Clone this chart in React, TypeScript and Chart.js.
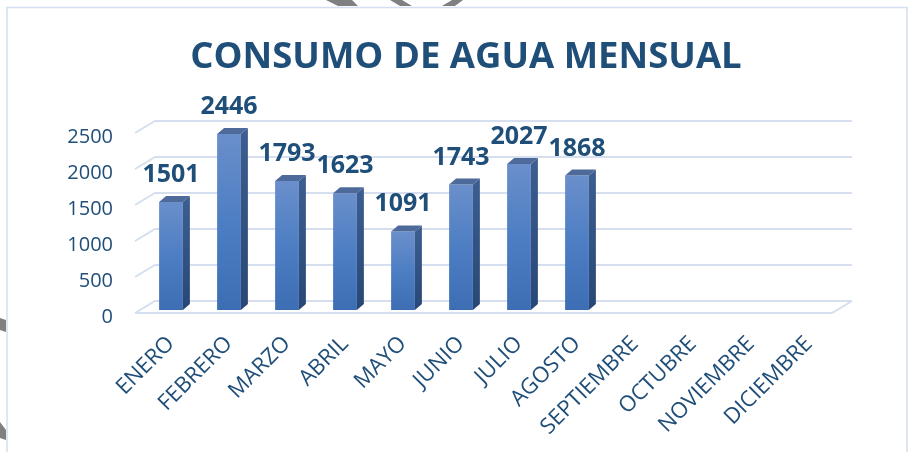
import React, { useEffect, useRef } from "react";
import { Chart, registerables } from "chart.js";

Chart.register(...registerables);

const categories = [
  "ENERO", "FEBRERO", "MARZO", "ABRIL", "MAYO", "JUNIO",
  "JULIO", "AGOSTO", "SEPTIEMBRE", "OCTUBRE", "NOVIEMBRE", "DICIEMBRE",
];
const consumo: (number | null)[] = [1501, 2446, 1793, 1623, 1091, 1743, 2027, 1868, null, null, null, null];
const yMin = 0;
const yMax = 2500;
const yStep = 500;
const titleText = "CONSUMO DE AGUA MENSUAL";

const TEXT = "#1F4E79";
const GRID = "#D5DFF0";
const DEPTH_X = 7;
const DEPTH_Y = 6;

const frame3D = {
  id: "frame3D",
  beforeDatasetsDraw(chart: any) {
    const { ctx, chartArea } = chart;
    const y = chart.scales.y;
    const FL = chartArea.left - 7;
    const BL = FL + 20;
    const BR = chartArea.right + 14;
    const FR = BR - 20;
    ctx.save();
    ctx.strokeStyle = GRID;
    ctx.lineWidth = 2;
    for (let v = yMin; v <= yMax; v += yStep) {
      const p = y.getPixelForValue(v);
      const yB = p - 9;
      const yF = yB + 12;
      ctx.beginPath();
      ctx.moveTo(FL, yF);
      ctx.lineTo(BL, yB);
      ctx.lineTo(BR, yB);
      if (v === yMin) {
        ctx.moveTo(FL, yF);
        ctx.lineTo(FR, yF);
        ctx.lineTo(BR, yB);
      }
      ctx.stroke();
    }
    ctx.restore();
  },
  afterDatasetsDraw(chart: any) {
    const { ctx } = chart;
    const meta = chart.getDatasetMeta(0);
    ctx.save();
    meta.data.forEach((bar: any, i: number) => {
      const v = consumo[i];
      if (v == null) return;
      const { x, y, base, width } = bar.getProps(["x", "y", "base", "width"], true);
      const l = x - width / 2;
      const r = x + width / 2;
      const sg = ctx.createLinearGradient(0, y, 0, base);
      sg.addColorStop(0, "#3B5D8F");
      sg.addColorStop(1, "#284776");
      ctx.fillStyle = sg;
      ctx.beginPath();
      ctx.moveTo(r, y);
      ctx.lineTo(r + DEPTH_X, y - DEPTH_Y);
      ctx.lineTo(r + DEPTH_X, base - DEPTH_Y);
      ctx.lineTo(r, base);
      ctx.closePath();
      ctx.fill();
      ctx.fillStyle = "#4D6A9A";
      ctx.beginPath();
      ctx.moveTo(l, y);
      ctx.lineTo(l + DEPTH_X, y - DEPTH_Y);
      ctx.lineTo(r + DEPTH_X, y - DEPTH_Y);
      ctx.lineTo(r, y);
      ctx.closePath();
      ctx.fill();
      ctx.fillStyle = TEXT;
      ctx.font = "bold 25px 'Open Sans'";
      ctx.textAlign = "center";
      ctx.textBaseline = "alphabetic";
      ctx.fillText(String(v), x, y - 20);
    });
    ctx.restore();
  },
  afterDraw(chart: any) {
    const { ctx } = chart;
    ctx.save();
    ctx.strokeStyle = "#D3DEF0";
    ctx.lineWidth = 1.5;
    ctx.strokeRect(7, 7.5, 900, 470);
    // title
    ctx.fillStyle = TEXT;
    ctx.font = "bold 36.5px 'Open Sans'";
    ctx.textAlign = "center";
    ctx.textBaseline = "alphabetic";
    ctx.fillText(titleText, 466, 68);
    ctx.fillStyle = "#808080";
    const polys = [
      [[326, 0], [352, 0], [358, 6], [338, 6]],
      [[390, 0], [402, 0], [412, 6], [400, 6]],
      [[452, 0], [463, 0], [455, 6], [442, 6]],
      [[0, 318], [6, 320], [6, 332], [0, 330]],
      [[0, 422], [6, 430], [6, 440], [0, 438]],
    ];
    polys.forEach((p) => {
      ctx.beginPath();
      p.forEach(([px, py], k) => (k ? ctx.lineTo(px, py) : ctx.moveTo(px, py)));
      ctx.closePath();
      ctx.fill();
    });
    ctx.restore();
  },
};

export default function App() {
  const ref = useRef<HTMLCanvasElement | null>(null);
  useEffect(() => {
    if (!ref.current) return;
    const chart = new Chart(ref.current, {
      type: "bar",
      data: {
        labels: categories,
        datasets: [
          {
            data: consumo,
            backgroundColor: (c: any) => {
              const ch = c.chart;
              const v = c.raw;
              if (!ch.chartArea || v == null) return "#4A78C0";
              const ys = ch.scales.y;
              const top = ys.getPixelForValue(v);
              const bot = ys.getPixelForValue(0);
              const g = ch.ctx.createLinearGradient(0, top, 0, bot);
              g.addColorStop(0, "#6A8FCB");
              g.addColorStop(0.5, "#4D7EC3");
              g.addColorStop(1, "#3D6DB3");
              return g;
            },
            borderWidth: 0,
            categoryPercentage: 1,
            barPercentage: 0.41,
          },
        ],
      },
      options: {
        responsive: false,
        animation: false,
        layout: { padding: { left: 0, right: 74, top: 130, bottom: 0 } },
        plugins: {
          legend: { display: false },
          tooltip: { enabled: false },
          title: { display: false },
        },
        scales: {
          x: {
            grid: { display: false },
            border: { display: false },
            ticks: {
              autoSkip: false,
              minRotation: 45,
              maxRotation: 45,
              padding: 13,
              color: TEXT,
              font: { family: "'Open Sans'", size: 22 },
            },
            afterFit: (s: any) => {
              s.height = 142;
            },
          },
          y: {
            min: yMin,
            max: yMax,
            grid: { display: false, drawTicks: false },
            border: { display: false },
            ticks: {
              stepSize: yStep,
              padding: 29,
              labelOffset: 7,
              color: TEXT,
              font: { family: "'Open Sans'", size: 20 },
              callback: (v: any) => String(v),
            },
            afterFit: (s: any) => {
              s.width = 142;
            },
          },
        },
      },
      plugins: [frame3D],
    });
    return () => chart.destroy();
  }, []);
  return (
    <div style={{ position: "fixed", left: 0, top: 0, width: 912, height: 452, background: "#fff" }}>
      <canvas ref={ref} width={912} height={452} />
    </div>
  );
}
